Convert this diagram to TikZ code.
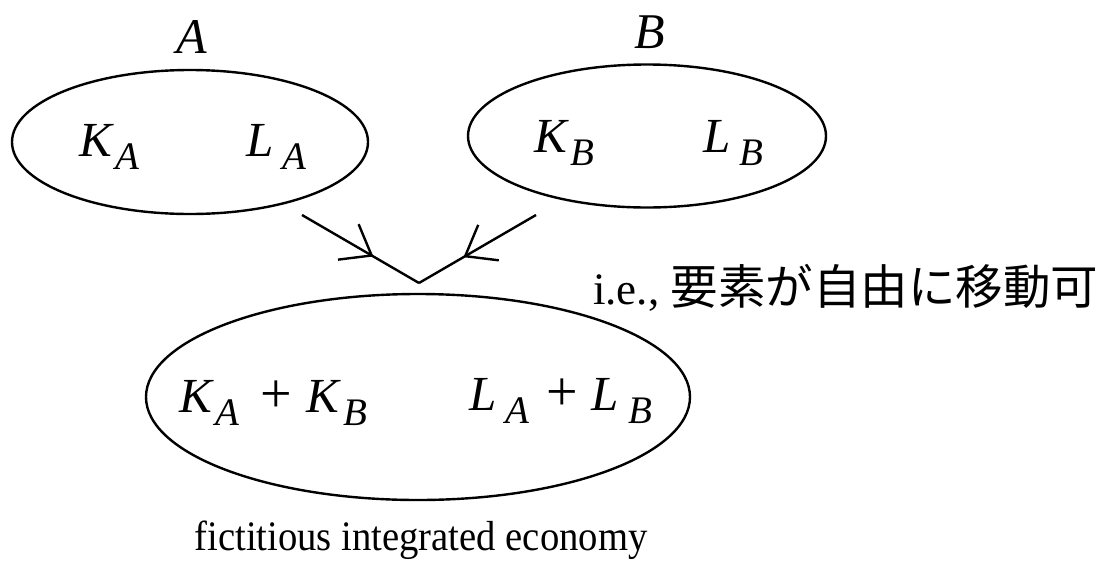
\documentclass[tikz,border=0pt]{standalone}
\usepackage{fontspec}
\setmainfont{Liberation Serif}
\newfontfamily\cond{Liberation Serif}[FakeStretch=0.92]
\newfontfamily\cjk{Noto Sans CJK JP}
\usetikzlibrary{shapes.geometric,arrows.meta,decorations.markings}
\newcommand\msub[3][2pt]{\textit{#2}\kern#1\raisebox{-13pt}{\fontsize{39}{40}\selectfont\textit{#3}}}
\newcommand\bigplus{{\fontsize{56}{56}\selectfont+}}
\begin{document}
\begin{tikzpicture}[x=1pt,y=-1pt,line width=2.4pt]
\tikzset{
  eco/.style={draw, ellipse, inner sep=0pt, line width=2.4pt},
  mathlbl/.style={anchor=base west, inner sep=0pt, font=\fontsize{49}{50}\selectfont},
  toplbl/.style={anchor=base, inner sep=0pt, font=\fontsize{50}{52}\selectfont\itshape},
  midarrow/.style={decoration={markings, mark=at position #1 with {\arrow{Straight Barb[length=27pt,width=41pt]}}}, postaction={decorate}}
}
\useasboundingbox (0,0) rectangle (1107,560);
% economies
\node[eco, minimum width=356pt, minimum height=144pt] (ea) at (190,142) {};
\node[eco, minimum width=358pt, minimum height=143pt] (eb) at (647,136) {};
\node[eco, minimum width=544pt, minimum height=206pt] (ec) at (418,397) {};
% titles
\node[toplbl] (na) at (192,53) {A};
\node[toplbl] (nb) at (650,48) {B};
% contents
\node[mathlbl] (ka) at (78,156) {\msub{K}{A}};
\node[mathlbl] (la) at (245,156) {\msub[9pt]{L}{A}};
\node[mathlbl] (kb) at (533,152) {\msub{K}{B}};
\node[mathlbl] (lb) at (702,152) {\msub[9pt]{L}{B}};
\node[mathlbl] (kab) at (178,412) {\msub{K}{A}\hspace{21pt}\bigplus\hspace{14pt}\msub{K}{B}};
\node[mathlbl] (lab) at (468,410) {\msub[9pt]{L}{A}\hspace{17pt}\bigplus\hspace{14pt}\msub[9pt]{L}{B}};
% caption
\node[anchor=base, inner sep=0pt, font=\cond\fontsize{42}{44}\selectfont] (cap) at (421,550) {fictitious integrated economy};
\node[anchor=base west, inner sep=0pt] (ie) at (592,304) {\fontsize{45}{46}\selectfont i.e., {\cjk\fontsize{47.5}{48}\selectfont 要素が自由に移動可}};
% merging arrows
\coordinate (sa) at (302,215);
\coordinate (sb) at (536,215);
\coordinate (apex) at (419,283);
\draw[midarrow=0.61] (sa) -- (apex);
\draw[midarrow=0.62] (sb) -- (apex);
\end{tikzpicture}
\end{document}
